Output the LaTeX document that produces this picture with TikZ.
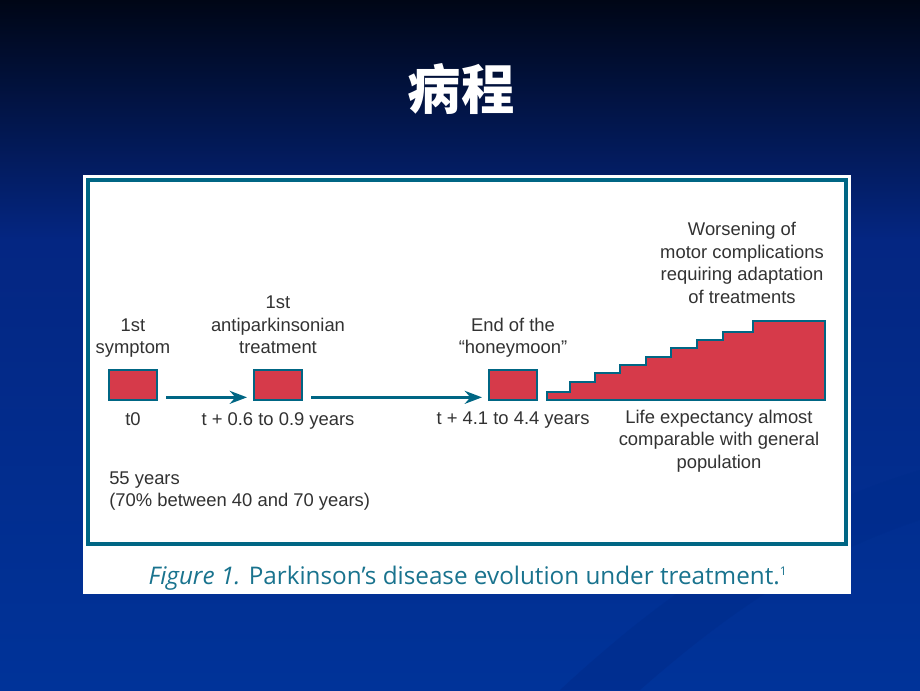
\documentclass[tikz,border=0pt]{standalone}
\usepackage{fontspec}
\setmainfont{Liberation Sans}
\newfontfamily\cjk{Noto Sans CJK SC}
\newfontfamily\capfont{Open Sans}
\usetikzlibrary{arrows.meta,positioning}
\definecolor{pdTeal}{RGB}{0,102,132}
\definecolor{pdCapTeal}{RGB}{25,115,142}
\definecolor{pdRed}{RGB}{214,58,74}
\definecolor{pdGrey}{RGB}{50,50,50}
\definecolor{slideTop}{RGB}{0,6,22}
\definecolor{slideMid}{RGB}{4,38,130}
\definecolor{slideBot}{RGB}{0,51,153}
\definecolor{slideStreak}{RGB}{0,44,140}

\begin{document}
\begin{tikzpicture}[x=0.75pt,y=-0.75pt,>=Stealth,
  event/.style={draw=pdTeal,line width=1.5pt,fill=pdRed,minimum width=36pt,minimum height=23pt,inner sep=0pt},
  lbl/.style={text=pdGrey,font=\fontsize{13.8}{17}\selectfont,align=center,inner sep=0pt},
  flow/.style={->,draw=pdTeal,line width=2.2pt}]
\useasboundingbox (0,0) rectangle (920,690);
\shade[top color=slideTop,bottom color=slideMid] (0,0) rectangle (920,240);
\shade[top color=slideMid,bottom color=slideBot] (0,240) rectangle (920,690);
\fill[slideStreak,opacity=0.6] (560,690) .. controls (700,560) and (820,500) .. (920,470) -- (920,520) .. controls (800,560) and (720,620) .. (640,690) -- cycle;
% title
\node[text=white,font=\cjk\bfseries\fontsize{40}{40}\selectfont] (title) at (461,89) {病程};
% figure panel
\fill[white] (83,175) rectangle (851,594);
\draw[pdTeal,line width=3pt] (88,180) rectangle (846,544);
% events
\node[event] (sym) at (133,385) {};
\node[event] (treat) at (278,385) {};
\node[event] (honey) at (513,385) {};
\node[lbl,text depth=0pt,above=11pt of sym] (symlbl) {1st\\symptom};
\node[lbl,text depth=0pt,above=11pt of treat] (treatlbl) {1st\\antiparkinsonian\\treatment};
\node[lbl,text depth=0pt,above=11pt of honey] (honeylbl) {End of the\\“honeymoon”};
\node[lbl,below=8pt of sym] (t0) {t0};
\node[lbl,below=8pt of treat] (t1) {t + 0.6 to 0.9 years};
\node[lbl,below=8pt of honey] (t2) {t + 4.1 to 4.4 years};
\draw[flow] ([xshift=6pt,yshift=3pt]sym.south east) -- ([xshift=-4.5pt,yshift=3pt]treat.south west);
\draw[flow] ([xshift=6pt,yshift=3pt]treat.south east) -- ([xshift=-4.5pt,yshift=3pt]honey.south west);
% worsening staircase
\draw[draw=pdTeal,fill=pdRed,line width=1.5pt] (547,400) |- (570,392) |- (595,382) |- (620,373)
  |- (646,365) |- (671,357) |- (697,348) |- (723,340) |- (753,332) |- (825,321) -- (825,400) -- cycle;
\node[lbl] (worse) at (742,263) {Worsening of\\motor complications\\requiring adaptation\\of treatments};
\node[lbl] (life) at (719,441) {Life expectancy almost\\comparable with general\\population};
\node[lbl,align=left,anchor=west] (age) at (109,491) {55 years\\(70\% between 40 and 70 years)};
% caption
\node[text=pdCapTeal,font=\capfont\fontsize{18.2}{20}\selectfont] (caption) at (468,578) {\textit{Figure 1.} Parkinson’s disease evolution under treatment.\textsuperscript{\fontsize{9}{9}\selectfont 1}};
\end{tikzpicture}
\end{document}
